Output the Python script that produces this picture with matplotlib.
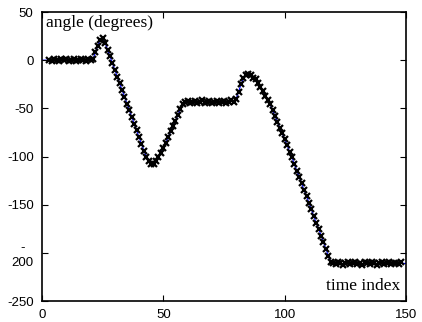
import numpy as np
import matplotlib
matplotlib.use("Agg")
import matplotlib.pyplot as plt

# angle readings (degrees), one per time index 0..150
angle = [
    0, 0, 0,
    0, -1, 1, 0, -1, 1, 0, 1, -1, 0, 1, -1, 0, 1, 0, -1, 1, 0,
    1, 8, 15, 21, 23, 18, 11, 4, -3, -10,
    -17, -24, -31, -38, -45, -52, -59, -66, -73, -80,
    -87, -94, -100, -105, -108, -108, -105, -101, -96, -91,
    -86, -80, -74, -68, -63, -57, -51, -46, -43, -42,
    -44, -43, -42, -44, -43, -41, -44, -43, -42, -44,
    -43, -42, -44, -43, -42, -44, -43, -41, -43, -40,
    -33, -25, -19, -15, -14, -15, -18, -20, -24, -28,
    -32, -37, -41, -46, -52, -58, -64, -70, -76, -82,
    -88, -95, -101, -108, -115, -121, -128, -135, -141, -148,
    -155, -162, -169, -175, -182, -189, -196, -203, -210, -211,
    -212, -210, -211, -213, -211, -210, -212, -211, -210, -212,
    -211, -213, -210, -211, -212, -210, -211, -213, -211, -210,
    -212, -211, -210, -212, -211, -211, -212, -210, -211, -211,
]
t = np.arange(len(angle))

xticks = [0, 50, 100, 150]
yticks = [50, 0, -50, -100, -150, -200, -250]
ylabels = ["50", "0", "-50", "-100", "-150", "-\n200", "-250"]

fig = plt.figure(figsize=(4.22, 3.22), dpi=100)
ax = fig.add_axes([0.0995, 0.0652, 0.8626, 0.8975])

ax.plot(t, angle, color="#0000ff", lw=0.8, zorder=1)
ax.plot(t, angle, ls="none", marker="x", ms=4.5, mew=1.6, color="black",
        markevery=slice(3, 149), zorder=2)

ax.set_xlim(0, 150)
ax.set_ylim(-250, 50)
ax.set_xticks(xticks)
ax.set_xticklabels([str(v) for v in xticks])
ax.set_yticks(yticks)
ax.set_yticklabels(ylabels, multialignment="center", linespacing=1.25)
ax.tick_params(direction="in", top=True, right=True, length=4, width=0.8,
               labelsize=9.5)
ax.tick_params(axis="y", pad=6)
ax.tick_params(axis="x", pad=6)
for lab in ax.get_xticklabels() + ax.get_yticklabels():
    lab.set_family("Liberation Sans")
for s in ax.spines.values():
    s.set_linewidth(1.2)

ax.text(0.012, 0.99, "angle (degrees)", transform=ax.transAxes,
        ha="left", va="top", fontsize=12.5, family="Liberation Serif")
ax.text(0.985, 0.025, "time index", transform=ax.transAxes,
        ha="right", va="bottom", fontsize=12.5, family="Liberation Serif")

fig.savefig("out.png", dpi=100)
